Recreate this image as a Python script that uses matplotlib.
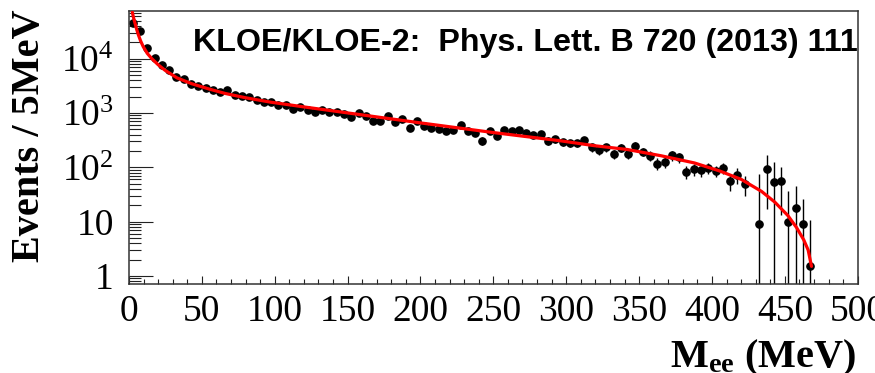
import numpy as np
import matplotlib
matplotlib.use('Agg')
import matplotlib.pyplot as plt
from matplotlib.ticker import LogLocator, MultipleLocator, NullFormatter, FixedLocator, FixedFormatter

# ---------------- data ----------------
bin_width = 5.0
bin_centers = np.arange(2.5, 470.0, bin_width)  # 94 bins, 0-470 MeV

counts = [44500, 32000, 15800, 10300, 7500, 6070, 4580, 4260, 3440, 3120,
          2870, 2590, 2420, 2590, 2150, 2040, 1950, 1760, 1580, 1620,
          1410, 1410, 1190, 1310, 1140, 1030, 1140, 1060, 1060, 958,
          854, 987, 891, 702, 702, 891, 690, 774, 527, 720,
          574, 521, 505, 470, 491, 607, 470, 421, 307, 458,
          380, 491, 458, 484, 421, 396, 408, 307, 330, 287,
          278, 275, 316, 232, 206, 232, 178, 230, 178, 248,
          194, 163, 117, 124, 165, 153, 83, 92, 88, 97,
          86, 98, 56, 73, 49, np.nan, 9.2, 92, 53, 56,
          10, 18, 9, 1.5]

errors = [900, 700, 450, 350, 280, 240, 200, 190, 170, 160,
          150, 140, 135, 140, 125, 120, 118, 110, 105, 106,
          98, 98, 90, 95, 88, 84, 88, 85, 85, 80,
          76, 82, 78, 70, 70, 78, 69, 72, 60, 70,
          62, 58, 57, 55, 56, 62, 55, 52, 50, 54,
          50, 55, 53, 54, 51, 50, 50, 46, 46, 44,
          44, 44, 46, 38, 36, 38, 34, 38, 34, 39,
          35, 32, 28, 29, 32, 31, 21, 22, 22, 23,
          21, 22, 20, 24, 20, np.nan, 67, 75, 72, 43,
          26, 27, 17, 9.4]

fit_mee = [2.3, 3.0, 4.1, 5.2, 6.4, 8.0, 9.8, 12.5, 15.6, 20, 24.7, 33, 43.1,
           55, 66, 80, 97, 120, 150, 200, 250, 296, 319, 342, 365, 388, 405,
           420, 434, 443, 452, 458, 463, 466, 468.3]
fit_vals = [71000, 58000, 45000, 35000, 27500, 21000, 16500, 12500, 10000, 7700,
            6100, 4400, 3440, 2750, 2280, 1900, 1580, 1290, 1000, 655, 435,
            307, 250, 212, 163, 120, 86, 60, 36, 23, 13, 7.8, 4.6, 3.0, 1.5]

x_ticks = [0, 50, 100, 150, 200, 250, 300, 350, 400, 450, 500]
y_ticks = [1, 10, 100, 1000, 10000]
y_tick_labels = ['1', '10', '$10^2$', '$10^3$', '$10^4$']

title_text = 'KLOE/KLOE-2:  Phys. Lett. B 720 (2013) 111'
y_label = 'Events / 5MeV'
x_label = r'M$_{ee}$ (MeV)'

# ---------------- style ----------------
plt.rcParams['font.family'] = ['Liberation Serif', 'DejaVu Serif']
plt.rcParams['mathtext.fontset'] = 'custom'
plt.rcParams['mathtext.rm'] = 'Liberation Serif'
plt.rcParams['mathtext.it'] = 'Liberation Serif:italic'
plt.rcParams['mathtext.bf'] = 'Liberation Serif:bold'
plt.rcParams['mathtext.default'] = 'regular'

W, H = 875, 373
fig = plt.figure(figsize=(W / 100, H / 100), dpi=100)
left, right, top, bottom = 129, 857.7, 10.7, 283.7
ax = fig.add_axes([left / W, (H - bottom) / H, (right - left) / W, (bottom - top) / H])

c = np.array(counts, dtype=float)
e = np.array(errors, dtype=float)
lower = np.minimum(e, c * 0.999)
ax.errorbar(bin_centers, c, yerr=[lower, e], fmt='o', color='black', ms=5.2,
            elinewidth=1.0, capsize=0, zorder=2)
ax.plot(fit_mee, fit_vals, color='#ff0000', lw=2.3, zorder=3, solid_capstyle='round')

ax.set_yscale('log')
ax.set_xlim(0, 500)
ax.set_ylim(0.72, 76000)

ax.xaxis.set_major_locator(FixedLocator(x_ticks))
ax.xaxis.set_minor_locator(MultipleLocator(10))
ax.yaxis.set_major_locator(FixedLocator(y_ticks))
ax.yaxis.set_major_formatter(FixedFormatter(y_tick_labels))
ax.yaxis.set_minor_locator(LogLocator(base=10, subs=np.arange(2, 10), numticks=30))
ax.yaxis.set_minor_formatter(NullFormatter())

ax.tick_params(axis='both', which='both', direction='in', top=False, right=False,
               color='#222222', width=0.8)
ax.tick_params(axis='y', which='major', length=17, pad=11, labelsize=27)
ax.tick_params(axis='y', which='minor', length=8.4)
ax.tick_params(axis='x', which='major', length=5.8, pad=8, labelsize=27)
ax.tick_params(axis='x', which='minor', length=3.6)

for sp in ax.spines.values():
    sp.set_color('#333333')
    sp.set_linewidth(1.1)

fig.text(193 / W, (H - 50.7) / H, title_text, family=['Liberation Sans', 'DejaVu Sans'],
         weight='bold', fontsize=23.2, ha='left', va='baseline')
fig.text(30 / W, (H - 135.5) / H, y_label, rotation=90, ha='center', va='center',
         weight='bold', fontsize=29)
fig.text(856 / W, (H - 367) / H, x_label, ha='right', va='baseline',
         weight='bold', fontsize=29)

fig.savefig('out.png', dpi=100)
